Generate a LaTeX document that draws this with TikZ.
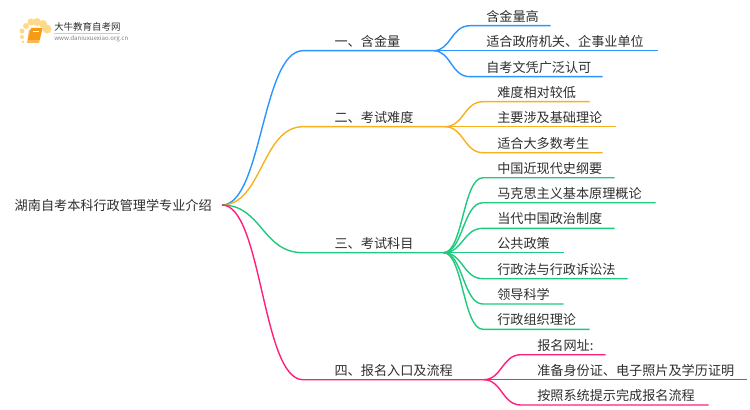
\documentclass[tikz,border=0pt]{standalone}
\usepackage{fontspec}
\setmainfont{Noto Sans CJK SC}
\definecolor{lineblue}{HTML}{2A95FF}
\definecolor{lineorange}{HTML}{F8B01E}
\definecolor{linegreen}{HTML}{1FC97E}
\definecolor{linepink}{HTML}{FF1F7C}
\definecolor{textgray}{HTML}{2E2E2E}
\definecolor{dotgold}{HTML}{FFD98A}
\definecolor{bookorange}{HTML}{F59A12}
\tikzset{
  topic/.style={font=\fontsize{9.85}{12}\selectfont, text=textgray, inner xsep=10*0.75pt, inner ysep=0pt},
  item/.style 2 args={font=\fontsize{9.85}{12}\selectfont, text=textgray, anchor=south west, inner xsep=0pt, inner ysep=2.3pt,
    text width=#1*0.75pt, execute at begin node={\hspace*{#2pt}}},
  stem/.style={line width=1.05pt}
}
\begin{document}
\begin{tikzpicture}[x=0.75pt,y=-0.75pt]
        \useasboundingbox (0,0) rectangle (750,410);
        % logo
        \foreach \px/\py/\pr in {47/29/4.5,43/24/4,37/22/4,31/22/3.5,26/26/3,22/31/2.5,22/37/2,23/42/1.5}
            \fill[dotgold] (\px,\py) circle ({\pr*0.75pt});
        \fill[bookorange!70] (29,30) -- (42,30) -- (39,43) -- (27,43) -- cycle;
        \fill[bookorange] (31,28) -- (42.5,28) -- (39.5,40) -- (28,40) -- cycle;
        \draw[white, line width=0.4pt] (33,31) -- (39,31);
        \node[font=\fontsize{7.1}{8}\selectfont, text=textgray, anchor=west, inner sep=0pt] (logotitle) at (54,27) {大牛教育自考网};
        \draw[gray!40, line width=0.4pt] (54,33) -- (120,33);
        \node[font=\fontsize{4.6}{5}\selectfont, text=gray, anchor=west, inner sep=0pt] (logourl) at (54,38.5) {www.daniuxuexiao.org.cn};
        % root
        \node[topic, anchor=east] (root) at (222,205) {湖南自考本科行政管理学专业介绍};
        % branches
        \node[item={130}{23.5}] (one) at (303,50.7) {一、含金量};
        \node[item={141}{23.5}] (two) at (303,126.7) {二、考试难度};
        \node[item={140}{23.5}] (three) at (303,252.7) {三、考试科目};
        \node[item={180}{23.5}] (four) at (303,379.7) {四、报名入口及流程};
        \draw[stem, lineblue] (root.east) .. controls (262,205) and (262,50.7) .. (one.south west) -- (one.south east);
        \draw[stem, lineorange] (root.east) .. controls (262,205) and (262,126.7) .. (two.south west) -- (two.south east);
        \draw[stem, linegreen] (root.east) .. controls (262,205) and (262,252.7) .. (three.south west) -- (three.south east);
        \draw[stem, linepink] (root.east) .. controls (262,205) and (262,379.7) .. (four.south west) -- (four.south east);
        % leaves of one
        \node[item={80}{12}] (one1) at (470,25.7) {含金量高};
        \node[item={187}{12}] (one2) at (470,50.7) {适合政府机关、企事业单位};
        \node[item={132}{12}] (one3) at (470,76.7) {自考文凭广泛认可};
        \draw[stem, lineblue] (one.south east) .. controls (451,50.7) and (451,25.7) .. (one1.south west) -- (one1.south east);
        \draw[stem, lineblue] (one.south east) -- (one2.south west) -- (one2.south east);
        \draw[stem, lineblue] (one.south east) .. controls (451,50.7) and (451,76.7) .. (one3.south west) -- (one3.south east);
        % leaves of two
        \node[item={106}{10.5}] (two1) at (483,101.7) {难度相对较低};
        \node[item={132}{10.5}] (two2) at (483,126.7) {主要涉及基础理论};
        \node[item={119}{10.5}] (two3) at (483,152.7) {适合大多数考生};
        \draw[stem, lineorange] (two.south east) .. controls (464,126.7) and (464,101.7) .. (two1.south west) -- (two1.south east);
        \draw[stem, lineorange] (two.south east) -- (two2.south west) -- (two2.south east);
        \draw[stem, lineorange] (two.south east) .. controls (464,126.7) and (464,152.7) .. (two3.south west) -- (two3.south east);
        % leaves of three
        \node[item={131}{10.5}] (three1) at (483,177.7) {中国近现代史纲要};
        \node[item={172}{10.5}] (three2) at (483,202.7) {马克思主义基本原理概论};
        \node[item={131}{10.5}] (three3) at (483,228.3) {当代中国政治制度};
        \node[item={80}{10.5}] (three4) at (483,252.7) {公共政策};
        \node[item={144}{10.5}] (three5) at (483,278.7) {行政法与行政诉讼法};
        \node[item={80}{10.5}] (three6) at (483,304) {领导科学};
        \node[item={106}{10.5}] (three7) at (483,329.3) {行政组织理论};
        \draw[stem, linegreen] (three.south east) .. controls (463,252.7) and (463,177.7) .. (three1.south west) -- (three1.south east);
        \draw[stem, linegreen] (three.south east) .. controls (463,252.7) and (463,202.7) .. (three2.south west) -- (three2.south east);
        \draw[stem, linegreen] (three.south east) .. controls (463,252.7) and (463,228.3) .. (three3.south west) -- (three3.south east);
        \draw[stem, linegreen] (three.south east) -- (three4.south west) -- (three4.south east);
        \draw[stem, linegreen] (three.south east) .. controls (463,252.7) and (463,278.7) .. (three5.south west) -- (three5.south east);
        \draw[stem, linegreen] (three.south east) .. controls (463,252.7) and (463,304) .. (three6.south west) -- (three6.south east);
        \draw[stem, linegreen] (three.south east) .. controls (463,252.7) and (463,329.3) .. (three7.south west) -- (three7.south east);
        % leaves of four
        \node[item={84}{12}] (four1) at (521,354.7) {报名网址:};
        \node[item={225}{12}] (four2) at (521,379.7) {准备身份证、电子照片及学历证明};
        \node[item={187}{12}] (four3) at (521,405) {按照系统提示完成报名流程};
        \draw[stem, linepink] (four.south east) .. controls (502,379.7) and (502,354.7) .. (four1.south west) -- (four1.south east);
        \draw[stem, linepink] (four.south east) -- (four2.south west) -- (four2.south east);
        \draw[stem, linepink] (four.south east) .. controls (502,379.7) and (502,405) .. (four3.south west) -- (four3.south east);
\end{tikzpicture}
\end{document}
